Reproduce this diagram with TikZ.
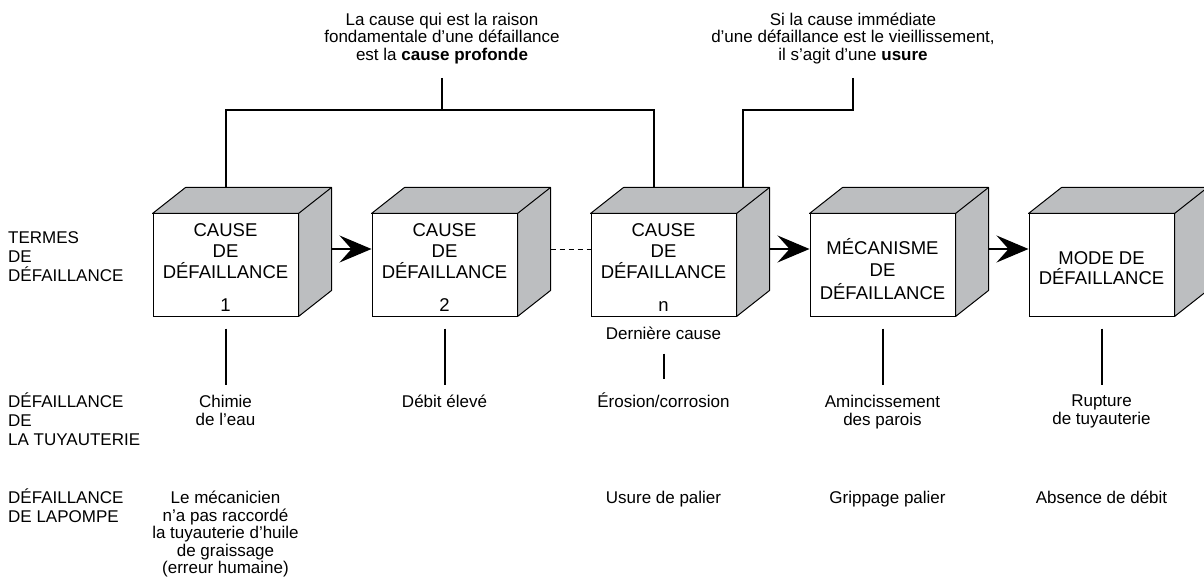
\documentclass[tikz,border=0pt]{standalone}
\usepackage{fontspec}
\setmainfont{Liberation Sans}
\usetikzlibrary{arrows.meta,calc,positioning}
\definecolor{facegray}{HTML}{BCBEC0}
\newcommand{\lift}[1]{\rule{0pt}{#1}}
\tikzset{%
  box/.style={draw,fill=white,line width=1pt,minimum width=145pt,minimum height=102pt,inner sep=0pt,align=center,font=\fontsize{18.5}{21}\selectfont},
  face/.style={draw,fill=facegray,line width=1pt,line join=round},
  arrow/.style={line width=1.3pt,-{Stealth[length=32pt,width=27pt,inset=12pt]}},
  link/.style={line width=2pt},
  term/.style={anchor=north west,inner sep=0pt,align=left,font=\fontsize{17}{19}\selectfont},
  note/.style={inner sep=0pt,align=center,font=\fontsize{17}{17.5}\selectfont},
}

\begin{document}
\begin{tikzpicture}[x=1pt,y=1pt,node distance=73pt]
  \useasboundingbox (0,0) rectangle (1204,582);
  \node[box] at (225.5,317) (cause1) {\lift{18pt}CAUSE\\DE\\DÉFAILLANCE\\[12pt]1};
  \node[box,right=of cause1] (cause2) {\lift{18pt}CAUSE\\DE\\DÉFAILLANCE\\[12pt]2};
  \node[box,right=of cause2] (causen) {\lift{18pt}CAUSE\\DE\\DÉFAILLANCE\\[12pt]n};
  \node[box,right=of causen] (mech) {\lift{24pt}MÉCANISME\\[1.5pt]DE\\[1.5pt]DÉFAILLANCE};
  \node[box,right=of mech] (mode) {\lift{19.5pt}MODE DE\\[-1pt]DÉFAILLANCE};

  % top and side of each block
  \foreach \cube in {cause1,cause2,causen,mech,mode}{
    \draw[face] (\cube.north west) -- ++(33,26) -| ($(\cube.south east)+(33,26)$) -- (\cube.south east) -- (\cube.north east) -- cycle;
    \draw[line width=1pt] (\cube.north east) -- ++(33,26);
  }

  \draw[arrow] ([xshift=33pt,yshift=16pt]cause1.east) -- ([yshift=16pt]cause2.west);
  \draw[line width=1pt,dash pattern=on 5pt off 4pt] ([xshift=33pt,yshift=16pt]cause2.east) -- ([yshift=16pt]causen.west);
  \draw[arrow] ([xshift=33pt,yshift=16pt]causen.east) -- ([yshift=16pt]mech.west);
  \draw[arrow] ([xshift=33pt,yshift=16pt]mech.east) -- ([yshift=16pt]mode.west);

  % notes at the top
  \node[note,anchor=south] (root) at (442,518) {La cause qui est la raison\\fondamentale d’une défaillance\\est la \textbf{cause profonde}};
  \node[note,anchor=south] (wear) at (853,518) {Si la cause immédiate\\d’une défaillance est le vieillissement,\\il s’agit d’une \textbf{usure}};
  \coordinate (j1) at (root.south |- 0,472);
  \coordinate (j2) at (wear.south |- 0,472);
  \draw[link] ([yshift=-14pt]root.south) -- (j1);
  \draw[link] ($(cause1.north)+(0,26)$) |- (j1) -| ($(causen.north)+(-10,26)$);
  \draw[link] ([yshift=-14pt]wear.south) -- (j2) -| ($(causen.north)+(79,26)$);

  % row titles
  \node[term] (terms) at (8,351) {TERMES\\DE\\DÉFAILLANCE};
  \node[term] (pipelbl) at (8,189) {DÉFAILLANCE\\DE\\LA TUYAUTERIE};
  \node[term] (pumplbl) at (8,93) {DÉFAILLANCE\\DE LAPOMPE};

  % piping
  \node[note,anchor=north] (water) at (cause1.south |- 0,187) {Chimie\\de l’eau};
  \node[note,anchor=north] (flow) at (cause2.south |- 0,187) {Débit élevé};
  \node[note,anchor=north] (last) at ([yshift=-10pt]causen.south) {Dernière cause};
  \node[note,anchor=north] (erosion) at (causen.south |- 0,189.5) {Érosion/corrosion};
  \node[note,anchor=north] (thin) at (mech.south |- 0,187) {Amincissement\\des parois};
  \node[note,anchor=north] (rupture) at (mode.south |- 0,187) {Rupture\\de tuyauterie};

  % pump
  \node[note,anchor=north] (human) at (cause1.south |- 0,91) {Le mécanicien\\n’a pas raccordé\\la tuyauterie d’huile\\de graissage\\(erreur humaine)};
  \node[note,anchor=north] (bearing) at (causen.south |- 0,91) {Usure de palier};
  \node[note,anchor=north] (seize) at ([xshift=5pt]mech.south |- 0,91) {Grippage palier};
  \node[note,anchor=north] (noflow) at (mode.south |- 0,91) {Absence de débit};

  \draw[link] ([yshift=-12pt]cause1.south) -- ([yshift=10pt]water.north);
  \draw[link] ([yshift=-12pt]cause2.south) -- ([yshift=10pt]flow.north);
  \draw[link] ([yshift=-14pt]last.south) -- ([yshift=14pt]erosion.north);
  \draw[link] ([yshift=-12pt]mech.south) -- ([yshift=10pt]thin.north);
  \draw[link] ([yshift=-12pt]mode.south) -- ([yshift=10pt]rupture.north);
\end{tikzpicture}
\end{document}
